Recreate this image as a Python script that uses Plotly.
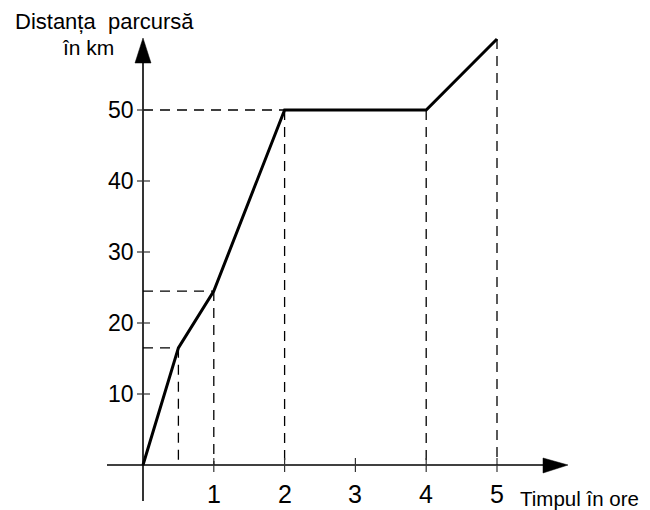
import plotly.graph_objects as go

# ---- data ----
time_h = [0, 0.5, 1, 2, 4, 5]
dist_km = [0, 16.5, 24.5, 50, 50, 60]
guide_horizontal = [0.5, 1, 2]          # points with a dashed line to the y axis
guide_vertical = [0.5, 1, 2, 4, 5]      # points with a dashed line to the x axis
x_ticks = [1, 2, 3, 4, 5]
x_tick_labels = ["1", "2", "3", "4", "5"]
y_ticks = [10, 20, 30, 40, 50]
y_tick_labels = ["10", "20", "30", "40", "50"]
y_title = ["Distanța  parcursă", "în km"]
x_title = "Timpul în ore"

# ---- layout geometry (pixel mapping of the drawing) ----
W, H = 650, 510
X0, XS = 143.0, 70.8     # pixel of x=0, pixels per hour
Y0, YS = 465.0, 7.1      # pixel of y=0, pixels per km


def px(p):
    return (p - X0) / XS


def py(p):
    return (Y0 - p) / YS


FONT = "Arial, Liberation Sans, sans-serif"
fig = go.Figure()

# dashed guide lines
DASH = "10px,7px"
for t, d in zip(time_h, dist_km):
    if t in guide_vertical:
        fig.add_trace(go.Scatter(x=[t, t], y=[d, 0], mode="lines",
                                 line=dict(color="black", width=1.3, dash=DASH),
                                 hoverinfo="skip", showlegend=False))
    if t in guide_horizontal:
        fig.add_trace(go.Scatter(x=[0, t], y=[d, d], mode="lines",
                                 line=dict(color="black", width=1.3, dash=DASH),
                                 hoverinfo="skip", showlegend=False))

# axis lines
fig.add_trace(go.Scatter(x=[px(107), px(546)], y=[0, 0], mode="lines",
                         line=dict(color="black", width=1.6),
                         hoverinfo="skip", showlegend=False))
fig.add_trace(go.Scatter(x=[0, 0], y=[py(501), py(60)], mode="lines",
                         line=dict(color="black", width=1.6),
                         hoverinfo="skip", showlegend=False))

# tick marks
for t in x_ticks:
    fig.add_trace(go.Scatter(x=[t, t], y=[py(458), py(472)], mode="lines",
                             line=dict(color="#333", width=1.2),
                             hoverinfo="skip", showlegend=False))
for v in y_ticks:
    fig.add_trace(go.Scatter(x=[px(137), px(150)], y=[v, v], mode="lines",
                             line=dict(color="#333", width=1.2),
                             hoverinfo="skip", showlegend=False))

# main line
fig.add_trace(go.Scatter(x=time_h, y=dist_km, mode="lines",
                         line=dict(color="black", width=3),
                         hoverinfo="skip", showlegend=False))

# arrowheads
fig.add_shape(type="path",
              path=f"M {px(543)} {py(458)} L {px(568)} 0 L {px(543)} {py(473)} Z",
              fillcolor="black", line=dict(color="black", width=0.5),
              xref="x", yref="y")
fig.add_shape(type="path",
              path=f"M {px(135)} {py(63)} L 0 {py(38)} L {px(151)} {py(63)} Z",
              fillcolor="black", line=dict(color="black", width=0.5),
              xref="x", yref="y")

# tick labels
for t, lab in zip(x_ticks, x_tick_labels):
    fig.add_annotation(x=t, y=py(494), text=lab, showarrow=False,
                       xanchor="center", yanchor="middle",
                       font=dict(family=FONT, size=25, color="black"))
for v, lab in zip(y_ticks, y_tick_labels):
    fig.add_annotation(x=px(136), y=v, text=lab, showarrow=False,
                       xanchor="right", yanchor="middle",
                       font=dict(family=FONT, size=23, color="black"))

# axis titles
fig.add_annotation(x=px(13), y=py(21), text=y_title[0], showarrow=False,
                   xanchor="left", yanchor="middle",
                   font=dict(family=FONT, size=22, color="black"))
fig.add_annotation(x=px(60), y=py(47), text=y_title[1], showarrow=False,
                   xanchor="left", yanchor="middle",
                   font=dict(family=FONT, size=21, color="black"))
fig.add_annotation(x=px(518), y=py(498), text=x_title, showarrow=False,
                   xanchor="left", yanchor="middle",
                   font=dict(family=FONT, size=20.5, color="black"))

fig.update_layout(
    width=W, height=H, autosize=False,
    margin=dict(l=0, r=0, t=0, b=0, pad=0),
    paper_bgcolor="white", plot_bgcolor="white",
    xaxis=dict(range=[px(0), px(W)], visible=False, fixedrange=True),
    yaxis=dict(range=[py(H), py(0)], visible=False, fixedrange=True),
    showlegend=False,
)

fig.write_html("out.html",
               config={"displayModeBar": False, "staticPlot": True},
               post_script="document.body.style.margin='0';"
                           "document.body.style.overflow='hidden';")
